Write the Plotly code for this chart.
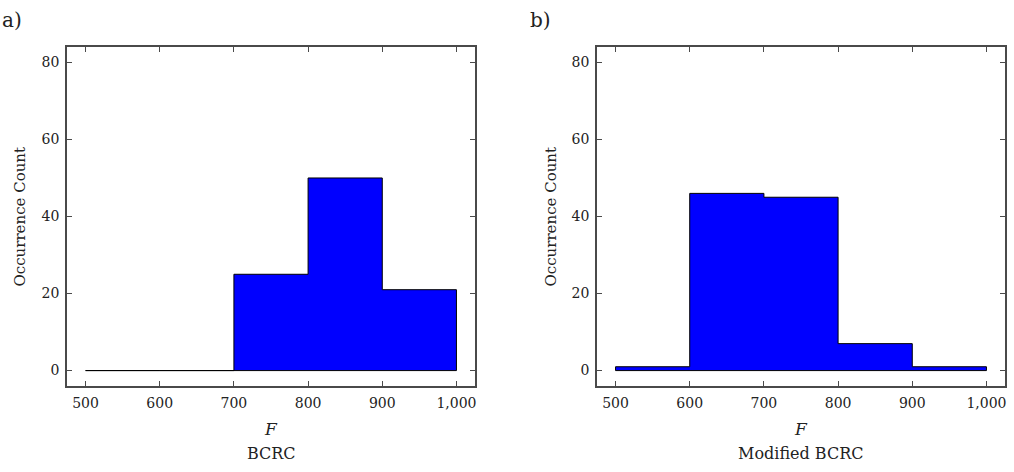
import plotly.graph_objects as go

bin_edges = [500, 600, 700, 800, 900, 1000]
counts_bcrc = [0, 0, 25, 50, 21]
counts_modified = [1, 46, 45, 7, 1]
x_ticks = [500, 600, 700, 800, 900, 1000]
x_tick_labels = ["500", "600", "700", "800", "900", "1,000"]
y_ticks = [0, 20, 40, 60, 80]
panel_titles = ["BCRC", "Modified BCRC"]
panel_labels = ["a)", "b)"]

FONT = "'DejaVu Serif', serif"
FRAME = "#4a4a4a"
TXT = "#222"


def step_path(edges, counts):
    xs = [edges[0]] + edges[:-1] + [edges[-1], edges[-1], edges[0]]
    ys = [0] + counts + [counts[-1], 0, 0]
    return xs, ys


fig = go.Figure()
domains = [[67 / 1014, 475 / 1014], [597 / 1014, 1005 / 1014]]
ydom = [1 - 386 / 472, 1 - 47 / 472]

for i, counts in enumerate([counts_bcrc, counts_modified]):
    xs, ys = step_path(bin_edges, counts)
    xa = "x" if i == 0 else "x2"
    ya = "y" if i == 0 else "y2"
    fig.add_trace(go.Scatter(
        x=xs, y=ys, mode="lines", line=dict(shape="hv", color="black", width=1),
        fill="toself", fillcolor="#0000FF", xaxis=xa, yaxis=ya,
        showlegend=False, hoverinfo="skip"))

axis_common = dict(showgrid=False, zeroline=False, showline=True, linecolor=FRAME,
                   linewidth=1.6, mirror="ticks", ticks="inside", ticklen=5,
                   tickcolor=FRAME, tickwidth=1, ticklabelstandoff=3,
                   tickfont=dict(family=FONT, size=14, color=TXT))

for i in range(2):
    sfx = "" if i == 0 else "2"
    fig.update_layout(**{
        "xaxis" + sfx: dict(axis_common, domain=domains[i], range=[475, 1025],
                            tickvals=x_ticks, ticktext=x_tick_labels,
                            anchor="y" + sfx),
        "yaxis" + sfx: dict(axis_common, domain=ydom, range=[-4, 84],
                            tickvals=y_ticks, anchor="x" + sfx),
    })

annotations = []
for i in range(2):
    cx = (domains[i][0] + domains[i][1]) / 2
    annotations.append(dict(x=cx, y=1 - 429 / 472, xref="paper", yref="paper",
                            text="<i>F</i>", showarrow=False, xanchor="center", yanchor="middle",
                            font=dict(family=FONT, size=17, color=TXT)))
    annotations.append(dict(x=cx, y=1 - 453 / 472, xref="paper", yref="paper",
                            text=panel_titles[i], showarrow=False, xanchor="center", yanchor="middle",
                            font=dict(family=FONT, size=16, color=TXT)))
    annotations.append(dict(x=(20 if i == 0 else 551) / 1014, y=(ydom[0] + ydom[1]) / 2,
                            xref="paper", yref="paper", text="Occurrence Count",
                            textangle=-90, showarrow=False, xanchor="center", yanchor="middle",
                            font=dict(family=FONT, size=15, color=TXT)))
    annotations.append(dict(x=(0 if i == 0 else 528) / 1014, y=1 - 20 / 472,
                            xref="paper", yref="paper", text=panel_labels[i],
                            xanchor="left", yanchor="middle", showarrow=False,
                            font=dict(family=FONT, size=20, color=TXT)))

fig.update_layout(width=1014, height=472, margin=dict(l=0, r=0, t=0, b=0),
                  plot_bgcolor="white", paper_bgcolor="white",
                  annotations=annotations)

fig.write_html("out.html")
